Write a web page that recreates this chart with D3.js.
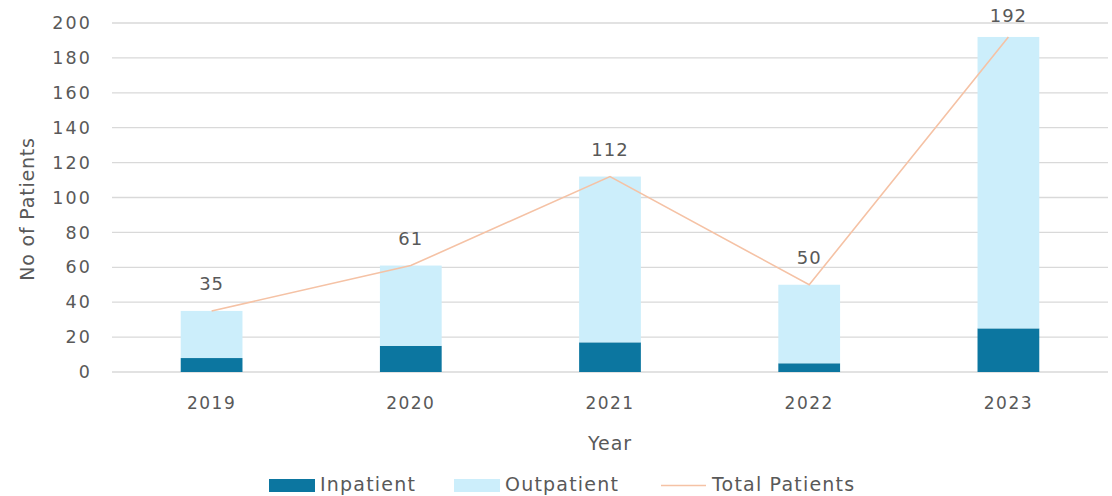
<!DOCTYPE html>
<html><head><meta charset="utf-8">
<script src="https://cdn.jsdelivr.net/npm/d3@7"></script>
<style>body{margin:0;background:#fff}svg{display:block}text{font-family:"DejaVu Sans",sans-serif;fill:#595959}</style>
</head><body><svg id="c" width="1112" height="496"></svg>
<script>
const years = ["2019","2020","2021","2022","2023"];
const inpatient = [8, 15, 17, 5, 25];
const outpatient = [27, 46, 95, 45, 167];
const total = [35, 61, 112, 50, 192];
const yTicks = [0,20,40,60,80,100,120,140,160,180,200];

const FONT = "DejaVu Sans";
const svg = d3.select("#c");
const m = {l:112, r:1108, t:23, b:372};
const x = d3.scaleBand().domain(years).range([m.l, m.r]).paddingInner(0.69).paddingOuter(0.345);
const y = d3.scaleLinear().domain([0,200]).range([m.b, m.t]);

const grid = svg.append("g");
grid.selectAll("line").data(yTicks).join("line")
  .attr("x1", m.l).attr("x2", m.r).attr("y1", d=>y(d)).attr("y2", d=>y(d))
  .attr("stroke", "#d9d9d9").attr("stroke-width", 1.3);

const yAxis = svg.append("g").attr("transform", `translate(${m.l},0)`)
  .call(d3.axisLeft(y).tickValues(yTicks).tickSize(0).tickPadding(22));
yAxis.select(".domain").remove();
yAxis.selectAll("text").attr("font-size", 17.5).attr("letter-spacing", 2.2)
  .style("fill","#595959").style("font-family",FONT).attr("dx", 2.2);

svg.append("g").selectAll("rect").data(years).join("rect")
  .attr("x", d=>x(d)).attr("width", x.bandwidth())
  .attr("y", (d,i)=>y(inpatient[i])).attr("height", (d,i)=>y(0)-y(inpatient[i]))
  .attr("fill", "#0C76A0");
svg.append("g").selectAll("rect").data(years).join("rect")
  .attr("x", d=>x(d)).attr("width", x.bandwidth())
  .attr("y", (d,i)=>y(inpatient[i]+outpatient[i])).attr("height", (d,i)=>y(inpatient[i])-y(inpatient[i]+outpatient[i]))
  .attr("fill", "#CCEEFB");

const line = d3.line().x((d,i)=>x(years[i])+x.bandwidth()/2).y(d=>y(d));
svg.append("path").datum(total).attr("d", line).attr("fill","none")
  .attr("stroke","#F5C2A5").attr("stroke-width",1.6);

svg.append("g").selectAll("text").data(total).join("text")
  .attr("x",(d,i)=>x(years[i])+x.bandwidth()/2).attr("y", d=>Math.max(y(d)-21, 22))
  .attr("text-anchor","middle").attr("font-size",18).attr("letter-spacing",1).text(d=>d);

const xAxis = svg.append("g").attr("transform", `translate(0,${m.b})`)
  .call(d3.axisBottom(x).tickSize(0).tickPadding(25));
xAxis.select(".domain").remove();
xAxis.selectAll("text").attr("font-size", 17).attr("letter-spacing", 1.5)
  .style("fill","#595959").style("font-family",FONT);

svg.append("text").attr("x", (m.l+m.r)/2).attr("y", 450).attr("text-anchor","middle")
  .attr("font-size",19).attr("letter-spacing",1).text("Year");
svg.append("text").attr("transform","translate(34,209) rotate(-90)").attr("text-anchor","middle")
  .attr("font-size",19).attr("letter-spacing",0.8).text("No of Patients");

const lg = svg.append("g");
const items = [
  {label:"Inpatient", type:"rect", color:"#0C76A0", x:269},
  {label:"Outpatient", type:"rect", color:"#CCEEFB", x:454},
  {label:"Total Patients", type:"line", color:"#F5C2A5", x:661}
];
items.forEach(it=>{
  if(it.type==="rect") lg.append("rect").attr("x",it.x).attr("y",479).attr("width",46).attr("height",13).attr("fill",it.color);
  else lg.append("line").attr("x1",it.x).attr("x2",it.x+45).attr("y1",485.5).attr("y2",485.5).attr("stroke",it.color).attr("stroke-width",1.6);
  lg.append("text").attr("x", it.x + 51).attr("y",491).attr("font-size",19).attr("letter-spacing",1.2).text(it.label);
});
</script></body></html>
